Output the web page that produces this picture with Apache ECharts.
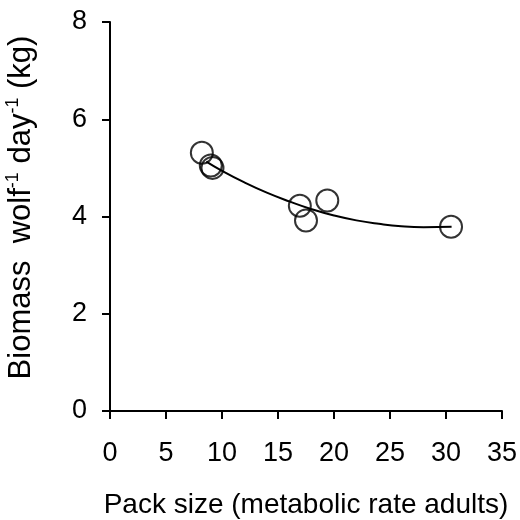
<!DOCTYPE html>
<html>
<head>
<meta charset="utf-8">
<script src="https://cdn.jsdelivr.net/npm/echarts@6/dist/echarts.min.js"></script>
<style>html,body{margin:0;padding:0;background:#fff}#c{width:520px;height:520px}</style>
</head>
<body>
<div id="c"></div>
<script>
// Observed points: pack size (metabolic rate adults) vs biomass per wolf per day (kg)
const packSize = [8.2, 9.0, 9.15, 16.95, 17.5, 19.4, 30.45];
const biomass = [5.31, 5.05, 5.00, 4.22, 3.92, 4.33, 3.79];
// Fitted curve
const curveX = [8.6, 10, 12, 14, 16, 18, 20, 22, 24, 26, 28, 30.5];
const curveY = [5.13, 4.94, 4.70, 4.49, 4.31, 4.15, 4.02, 3.92, 3.85, 3.80, 3.78, 3.79];
// Axes
const xTicks = { min: 0, max: 35, interval: 5 };
const yTicks = { min: 0, max: 8, interval: 2 };
const xTitle = 'Pack size (metabolic rate adults)';
const yTitle = 'Biomass  wolf{sup|-1} day{sup|-1} (kg)';

const FONT = 'Liberation Sans';
const chart = echarts.init(document.getElementById('c'), null, { renderer: 'canvas' });
const axisCommon = {
  axisLine: { show: true, onZero: false, lineStyle: { color: '#000', width: 2 } },
  axisTick: { show: true, inside: false, length: 8, lineStyle: { color: '#000', width: 2 } },
  splitLine: { show: false },
  nameLocation: 'middle',
  nameMoveOverlap: false
};
chart.setOption({
  animation: false,
  backgroundColor: '#fff',
  grid: { left: 110, right: 18, top: 22, bottom: 109, outerBoundsMode: 'none', containLabel: false },
  xAxis: Object.assign({}, axisCommon, {
    type: 'value', min: xTicks.min, max: xTicks.max, interval: xTicks.interval,
    name: xTitle, nameGap: 80,
    nameTextStyle: { fontFamily: FONT, fontSize: 28, color: '#000' },
    axisLabel: { fontFamily: FONT, fontSize: 27, color: '#000', margin: 29 }
  }),
  yAxis: Object.assign({}, axisCommon, {
    type: 'value', min: yTicks.min, max: yTicks.max, interval: yTicks.interval,
    name: yTitle, nameGap: 72, nameRotate: 90,
    nameTextStyle: {
      fontFamily: FONT, fontSize: 31, color: '#000', lineHeight: 34,
      padding: [0, 0, 0, 18],
      rich: { sup: { fontFamily: FONT, fontSize: 18, lineHeight: 18, color: '#000', verticalAlign: 'top' } }
    },
    axisLabel: { fontFamily: FONT, fontSize: 27, color: '#000', margin: 23 }
  }),
  series: [
    {
      type: 'line',
      data: curveX.map((x, i) => [x, curveY[i]]),
      smooth: true,
      showSymbol: false,
      symbol: 'none',
      lineStyle: { color: '#000', width: 2 },
      z: 2
    },
    {
      type: 'scatter',
      data: packSize.map((x, i) => [x, biomass[i]]),
      symbol: 'circle',
      symbolSize: 22,
      itemStyle: { color: 'rgba(0,0,0,0)', borderColor: '#000', borderWidth: 2 },
      z: 3
    }
  ]
});
</script>
</body>
</html>
